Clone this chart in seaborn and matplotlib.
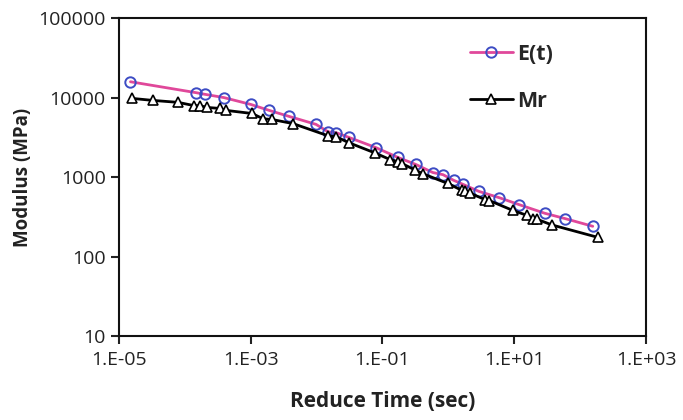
import matplotlib
matplotlib.use("Agg")
import matplotlib.pyplot as plt
import matplotlib.ticker as mticker
import numpy as np
import pandas as pd
import seaborn as sns

# E(t) relaxation modulus
et_time = [1.5e-5, 1.5e-4, 2.0e-4, 3.9e-4, 1.0e-3, 1.9e-3, 3.8e-3, 9.8e-3, 1.5e-2, 2.0e-2,
           3.1e-2, 0.079, 0.17, 0.32, 0.58, 0.83, 1.2, 1.66, 2.9, 5.9, 11.8, 29, 59, 155]
et_mod = [15800, 11500, 11000, 10000, 8200, 6900, 5800, 4600, 3700, 3600,
          3150, 2350, 1770, 1440, 1140, 1070, 910, 810, 660, 550, 450, 350, 300, 240]

# Mr resilient modulus
mr_time = [1.6e-5, 3.3e-5, 7.9e-5, 1.4e-4, 1.7e-4, 2.2e-4, 3.4e-4, 4.2e-4, 1.05e-3, 1.55e-3,
           2.1e-3, 4.4e-3, 1.5e-2, 2.0e-2, 0.031, 0.078, 0.13, 0.17, 0.20, 0.31, 0.41,
           0.98, 1.6, 1.8, 2.1, 3.6, 4.2, 9.5, 15.5, 19, 22, 37, 186]
mr_mod = [9750, 9200, 8700, 7900, 7900, 7500, 7300, 6900, 6300, 5400,
          5300, 4700, 3300, 3200, 2700, 2000, 1660, 1560, 1470, 1230, 1100,
          830, 680, 660, 630, 520, 505, 380, 330, 300, 295, 250, 174]

sns.set_theme(style="white")
plt.rcParams["font.family"] = ["Open Sans", "DejaVu Sans"]

fig, ax = plt.subplots(figsize=(6.83, 4.2), dpi=100)
fig.subplots_adjust(left=0.174, right=0.946, top=0.957, bottom=0.2)

df_et = pd.DataFrame({"t": et_time, "E": et_mod})
df_mr = pd.DataFrame({"t": mr_time, "E": mr_mod})

sns.lineplot(data=df_et, x="t", y="E", ax=ax, color="#E0489A", lw=2,
             marker="o", markersize=7.5, markerfacecolor="none",
             markeredgecolor="#3D4CC4", markeredgewidth=1.4, label="E(t)")
sns.lineplot(data=df_mr, x="t", y="E", ax=ax, color="black", lw=2,
             marker="^", markersize=7, markerfacecolor="white",
             markeredgecolor="black", markeredgewidth=1.2, label="Mr")

ax.set_xscale("log")
ax.set_yscale("log")
ax.set_xlim(1e-5, 1e3)
ax.set_ylim(10, 1e5)

ax.xaxis.set_major_locator(mticker.FixedLocator([1e-5, 1e-3, 1e-1, 1e1, 1e3]))
ax.xaxis.set_major_formatter(mticker.FuncFormatter(
    lambda v, p: "1.E" + ("+" if v >= 1 else "-") + f"{abs(int(round(np.log10(v)))):02d}"))
ax.xaxis.set_minor_locator(mticker.NullLocator())
ax.yaxis.set_major_locator(mticker.FixedLocator([10, 100, 1000, 10000, 100000]))
ax.yaxis.set_major_formatter(mticker.FuncFormatter(lambda v, p: f"{int(round(v))}"))
ax.yaxis.set_minor_locator(mticker.NullLocator())

ax.tick_params(axis="both", which="major", direction="out", length=6, width=1.5,
               labelsize=14, colors="#222222", bottom=True, left=True)
ax.tick_params(axis="x", pad=5)
for s in ax.spines.values():
    s.set_visible(True)
    s.set_color("#111111")
    s.set_linewidth(1.5)

ax.set_xlabel("Reduce Time (sec)", fontsize=15, fontweight="bold", color="#222222", labelpad=16)
ax.set_ylabel("Modulus (MPa)", fontsize=13.5, fontweight="bold", color="#222222", labelpad=4)

leg = ax.legend(loc="upper right", bbox_to_anchor=(0.86, 0.98), frameon=False,
                handlelength=2.0, handletextpad=0.2, labelspacing=1.2,
                prop={"size": 15.5, "weight": "bold"})

fig.savefig("out.png", dpi=100)
